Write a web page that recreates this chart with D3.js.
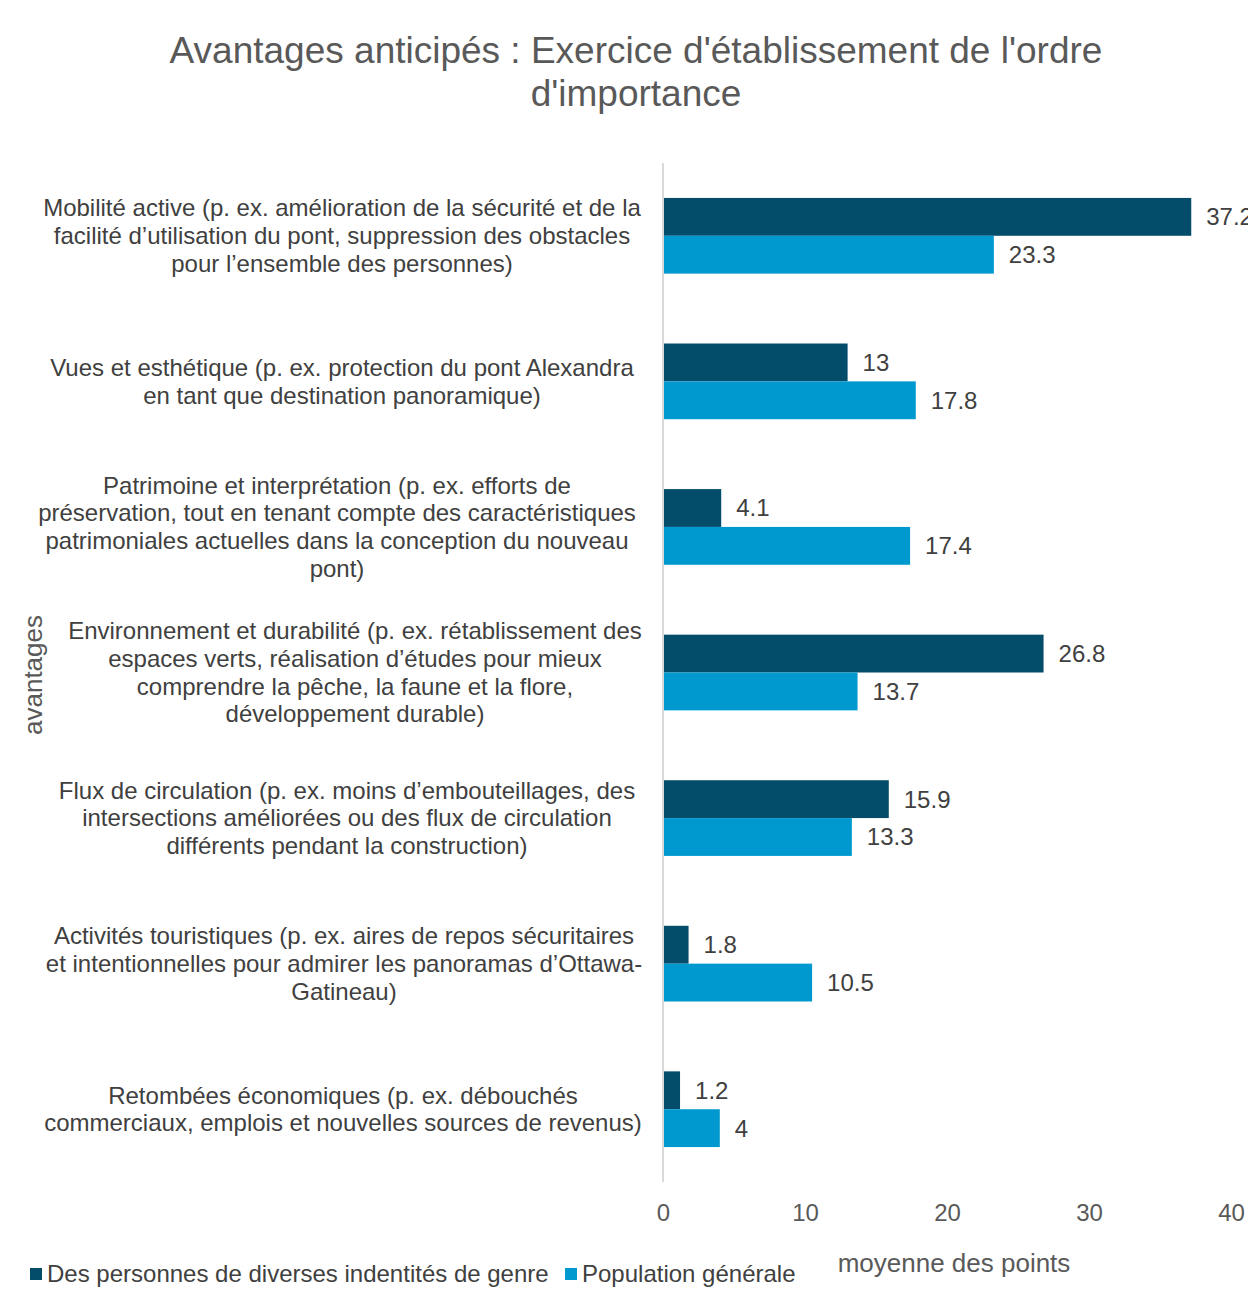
<!DOCTYPE html>
<html>
<head>
<meta charset="utf-8">
<title>Avantages anticipés</title>
<script src="https://cdnjs.cloudflare.com/ajax/libs/d3/7.8.5/d3.min.js"></script>
<style>
  body { margin: 0; background: #fff; }
  text { font-family: "Liberation Sans", Arial, sans-serif; }
</style>
</head>
<body>
<div id="chart"></div>
<script>
// categories, one entry per line of the wrapped label
var categories = [
  ["Mobilité active (p. ex. amélioration de la sécurité et de la", "facilité d’utilisation du pont, suppression des obstacles", "pour l’ensemble des personnes)"],
  ["Vues et esthétique (p. ex. protection du pont Alexandra", "en tant que destination panoramique)"],
  ["Patrimoine et interprétation (p. ex. efforts de", "préservation, tout en tenant compte des caractéristiques", "patrimoniales actuelles dans la conception du nouveau", "pont)"],
  ["Environnement et durabilité (p. ex. rétablissement des", "espaces verts, réalisation d’études pour mieux", "comprendre la pêche, la faune et la flore,", "développement durable)"],
  ["Flux de circulation (p. ex. moins d’embouteillages, des", "intersections améliorées ou des flux de circulation", "différents pendant la construction)"],
  ["Activités touristiques (p. ex. aires de repos sécuritaires", "et intentionnelles pour admirer les panoramas d’Ottawa-", "Gatineau)"],
  ["Retombées économiques (p. ex. débouchés", "commerciaux, emplois et nouvelles sources de revenus)"]
];
var genreValues = [37.2, 13, 4.1, 26.8, 15.9, 1.8, 1.2];
var generalValues = [23.3, 17.8, 17.4, 13.7, 13.3, 10.5, 4];
var seriesNames = ["Des personnes de diverses indentités de genre", "Population générale"];
var xTicks = [0, 10, 20, 30, 40];
var titleLines = ["Avantages anticipés : Exercice d'établissement de l'ordre", "d'importance"];

var width = 1248, height = 1296;
var colors = ["#034d6b", "#0099cf"];
// horizontal centre of each wrapped label (layout)
var labelCenters = [342, 342, 337, 355, 347, 344, 343];

var svg = d3.select("#chart").append("svg")
    .attr("width", width)
    .attr("height", height);

var x = d3.scaleLinear().domain([0, 40]).range([663, 1231]);
var y = d3.scaleBand().domain(d3.range(categories.length)).range([163, 1182]).paddingInner(0.48).paddingOuter(0.24);
var ySub = d3.scaleBand().domain([0, 1]).range([0, y.bandwidth()]);

// title
svg.append("g").selectAll("text")
    .data(titleLines)
    .enter().append("text")
    .attr("x", 636)
    .attr("y", (d, i) => 50 + i * 43)
    .attr("dy", "0.35em")
    .attr("text-anchor", "middle")
    .attr("font-size", 37)
    .attr("fill", "#595959")
    .text(d => d);

// bars
var series = [genreValues, generalValues];
series.forEach(function (vals, s) {
    var g = svg.append("g");
    g.selectAll("rect")
        .data(vals)
        .enter().append("rect")
        .attr("x", x(0))
        .attr("y", (d, i) => y(i) + ySub(s))
        .attr("width", d => x(d) - x(0))
        .attr("height", ySub.bandwidth())
        .attr("fill", colors[s]);
    g.selectAll("text")
        .data(vals)
        .enter().append("text")
        .attr("x", d => x(d) + 15)
        .attr("y", (d, i) => y(i) + ySub(s) + ySub.bandwidth() / 2)
        .attr("dy", "0.35em")
        .attr("font-size", 24)
        .attr("fill", "#404040")
        .text(d => d);
});

// vertical axis line
svg.append("line")
    .attr("x1", x(0)).attr("x2", x(0))
    .attr("y1", 163).attr("y2", 1182)
    .attr("stroke", "#d9d9d9")
    .attr("stroke-width", 2);

// category labels
var labels = svg.append("g").selectAll("text")
    .data(categories)
    .enter().append("text")
    .attr("text-anchor", "middle")
    .attr("font-size", 24)
    .attr("fill", "#404040");
labels.each(function (lines, i) {
    var cy = y(i) + y.bandwidth() / 2;
    var lh = 27.7;
    d3.select(this).selectAll("tspan")
        .data(lines)
        .enter().append("tspan")
        .attr("x", labelCenters[i])
        .attr("y", (d, j) => cy + (j - (lines.length - 1) / 2) * lh)
        .attr("dy", "0.35em")
        .text(d => d);
});

// x axis ticks (no line)
var xAxis = svg.append("g")
    .attr("transform", "translate(0,1182)")
    .call(d3.axisBottom(x).tickValues(xTicks).tickSize(0).tickPadding(22));
xAxis.select(".domain").remove();
xAxis.selectAll("text")
    .attr("font-family", "Liberation Sans, Arial, sans-serif")
    .attr("font-size", 24)
    .attr("fill", "#595959");

// axis titles
svg.append("text")
    .attr("x", 954).attr("y", 1263)
    .attr("dy", "0.35em")
    .attr("text-anchor", "middle")
    .attr("font-size", 26)
    .attr("fill", "#595959")
    .text("moyenne des points");

svg.append("text")
    .attr("transform", "translate(33,675) rotate(-90)")
    .attr("dy", "0.35em")
    .attr("text-anchor", "middle")
    .attr("font-size", 26)
    .attr("fill", "#595959")
    .text("avantages");

// legend
var legendX = [30, 565];
var legend = svg.append("g").selectAll("g")
    .data(seriesNames)
    .enter().append("g")
    .attr("transform", (d, i) => "translate(" + legendX[i] + ",1274)");
legend.append("rect")
    .attr("x", 0).attr("y", -6)
    .attr("width", 12).attr("height", 12)
    .attr("fill", (d, i) => colors[i]);
legend.append("text")
    .attr("x", 17)
    .attr("dy", "0.35em")
    .attr("font-size", 24)
    .attr("fill", "#404040")
    .text(d => d);
</script>
</body>
</html>
